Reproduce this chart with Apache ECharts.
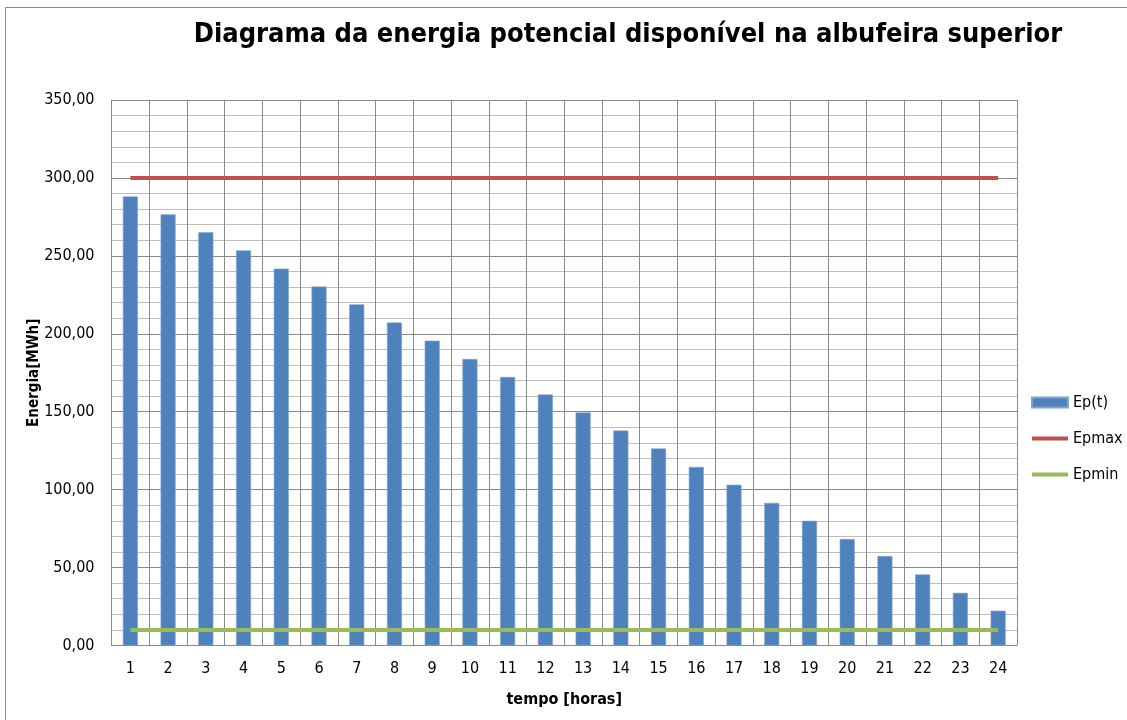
<!DOCTYPE html>
<html>
<head>
<meta charset="utf-8">
<script src="https://cdn.jsdelivr.net/npm/echarts@6/dist/echarts.min.js"></script>
<style>
  html, body { margin: 0; padding: 0; background: #fff; }
  #chart { width: 1127px; height: 720px; }
</style>
</head>
<body>
<div id="chart"></div>
<script>
// Hours of the day
const hours = ['1','2','3','4','5','6','7','8','9','10','11','12','13','14','15','16','17','18','19','20','21','22','23','24'];
// Potential energy stored in the upper reservoir [MWh]
const epValues = [288.1, 276.6, 265.1, 253.5, 241.8, 230.3, 218.9, 207.2, 195.6, 183.8, 172.3, 161.0,
                  149.5, 137.9, 126.4, 114.6, 103.1, 91.5, 80.0, 68.3, 57.4, 45.6, 33.8, 22.3];
// Storage limits [MWh]
const epMax = 300;
const epMin = 10;
const epMaxValues = hours.map(() => epMax);
const epMinValues = hours.map(() => epMin);

const FONT = "'Liberation Sans Narrow', 'DejaVu Sans Condensed', 'Noto Sans', sans-serif";
const RED = '#C0504D';
const GREEN = '#9BBB59';
const chart = echarts.init(document.getElementById('chart'), null, { renderer: 'canvas' });

chart.setOption({
  animation: false,
  backgroundColor: '#fff',
  textStyle: { fontFamily: FONT, color: '#000' },
  title: {
    text: 'Diagrama da energia potencial disponível na albufeira superior',
    left: 623,
    textAlign: 'center',
    top: 16,
    textStyle: { fontFamily: FONT, fontSize: 27, fontWeight: 'bold', color: '#000' }
  },
  graphic: [{
    type: 'rect',
    shape: { x: 5.5, y: 7.5, width: 1140, height: 730 },
    style: { fill: 'none', stroke: '#8a8a8a', lineWidth: 1 },
    silent: true
  }],
  legend: {
    orient: 'vertical',
    left: 1030,
    top: 394,
    padding: 0,
    itemWidth: 36,
    itemHeight: 10,
    itemGap: 19,
    textStyle: { fontFamily: FONT, fontSize: 16, color: '#000', lineHeight: 17 },
    data: [
      { name: 'Ep(t)', icon: 'rect' },
      { name: 'Epmax', itemStyle: { opacity: 0 }, lineStyle: { color: RED, width: 4 } },
      { name: 'Epmin', itemStyle: { opacity: 0 }, lineStyle: { color: GREEN, width: 4 } }
    ]
  },
  grid: { left: 111.5, right: 110, top: 100, bottom: 74.5, containLabel: false },
  xAxis: {
    type: 'category',
    data: hours,
    boundaryGap: true,
    name: 'tempo [horas]',
    nameLocation: 'middle',
    nameGap: 46,
    nameTextStyle: { fontFamily: FONT, fontSize: 16, fontWeight: 'bold', color: '#000' },
    axisLine: { lineStyle: { color: '#8a8a8a', width: 1 } },
    axisTick: { show: false },
    axisLabel: { fontFamily: FONT, fontSize: 16, color: '#000', margin: 15, interval: 0 },
    splitLine: { show: true, interval: 0, lineStyle: { color: '#8a8a8a', width: 1 } }
  },
  yAxis: {
    type: 'value',
    min: 0,
    max: 350,
    interval: 50,
    name: 'Energia[MWh]',
    nameLocation: 'middle',
    nameGap: 70,
    nameMoveOverlap: false,
    nameRotate: 90,
    nameTextStyle: { fontFamily: FONT, fontSize: 15, fontWeight: 'bold', color: '#000' },
    axisLine: { show: true, lineStyle: { color: '#8a8a8a', width: 1 } },
    axisTick: { show: false },
    axisLabel: {
      fontFamily: FONT, fontSize: 16, color: '#000', margin: 17,
      formatter: v => v.toFixed(2).replace('.', ',')
    },
    splitLine: { show: true, lineStyle: { color: '#8a8a8a', width: 1 } },
    minorTick: { show: false, splitNumber: 5 },
    minorSplitLine: { show: true, lineStyle: { color: '#bdbdbd', width: 1 } }
  },
  series: [
    {
      name: 'Ep(t)',
      type: 'bar',
      data: epValues,
      barWidth: 15,
      itemStyle: { color: '#4F81BD', borderColor: '#7fa3d0', borderWidth: 0.6 },
      z: 2
    },
    {
      name: 'Epmax',
      type: 'line',
      data: epMaxValues,
      symbol: 'none',
      lineStyle: { color: RED, width: 4 },
      itemStyle: { color: RED },
      z: 3
    },
    {
      name: 'Epmin',
      type: 'line',
      data: epMinValues,
      symbol: 'none',
      lineStyle: { color: GREEN, width: 4 },
      itemStyle: { color: GREEN },
      z: 3
    }
  ]
});
</script>
</body>
</html>
